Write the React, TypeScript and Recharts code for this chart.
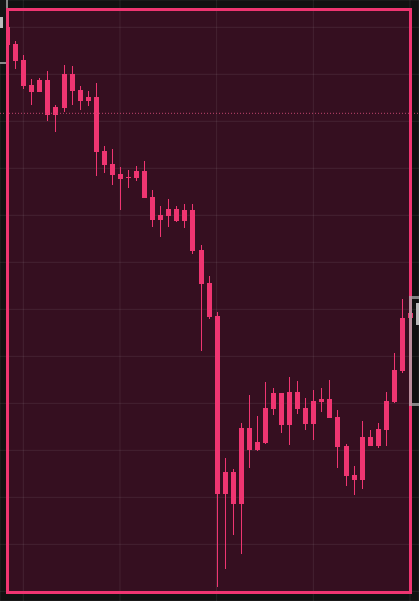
import {
    ComposedChart,
    Bar,
    XAxis,
    YAxis,
    CartesianGrid,
    ReferenceLine,
} from "recharts";

const PINK = "#ef3571";
const FRAME_FILL = "#350f20";
const PAGE_BG = "#111111";

// OHLC, one entry per candle, oldest first
const opens = [
    200.1, 196.4, 193.0, 187.7, 186.2, 188.8, 181.3, 182.8, 190.1, 186.7,
    184.3, 185.2, 173.7, 170.9, 168.8, 167.9, 168.0, 169.4, 163.9, 159.0,
    159.9, 161.3, 158.8, 161.1, 152.6, 145.6, 138.6, 100.7, 105.4, 98.6,
    114.7, 110.1, 111.6, 118.8, 122.2, 115.4, 122.4, 119.0, 115.6, 120.3,
    120.9, 117.1, 110.9, 104.7, 103.7, 112.8, 110.9, 114.3, 120.3, 126.9,
    138.2,
];
const highs = [
    200.3, 197.1, 194.1, 189.0, 189.2, 190.7, 183.5, 192.0, 191.8, 187.5,
    186.4, 188.2, 174.7, 174.1, 170.3, 169.6, 170.5, 171.6, 165.4, 162.0,
    163.5, 162.0, 162.4, 162.4, 153.7, 147.1, 139.4, 108.4, 106.0, 115.8,
    121.8, 117.3, 124.5, 123.3, 122.2, 125.6, 124.7, 121.1, 122.8, 123.3,
    125.0, 118.6, 111.3, 106.7, 116.2, 114.3, 115.8, 122.4, 130.7, 142.2,
    139.5,
];
const lows = [
    195.9, 191.1, 186.9, 183.5, 186.2, 180.1, 177.7, 182.0, 183.5, 182.4,
    183.3, 168.4, 169.0, 166.4, 161.1, 165.8, 167.3, 163.7, 157.5, 155.4,
    157.5, 158.6, 157.3, 151.8, 131.1, 137.9, 80.9, 84.7, 92.0, 87.9,
    106.2, 109.9, 111.3, 117.5, 113.7, 111.1, 117.7, 114.3, 112.2, 118.2,
    116.9, 106.2, 102.4, 100.5, 101.8, 110.9, 110.5, 110.9, 120.1, 126.4,
    138.0,
];
const closes = [
    196.2, 192.9, 187.5, 186.2, 188.8, 181.3, 183.0, 190.1, 186.4, 184.3,
    185.2, 173.5, 170.7, 168.6, 167.7, 168.2, 169.4, 163.7, 159.0, 160.1,
    161.3, 158.8, 161.1, 152.4, 145.4, 138.4, 100.7, 105.4, 98.6, 114.7,
    110.1, 111.8, 119.0, 122.2, 115.4, 122.4, 118.8, 115.6, 120.5, 120.9,
    116.9, 110.7, 104.5, 103.7, 112.8, 110.9, 114.5, 120.5, 127.1, 138.2,
    139.2,
];

const priceGrid = [80, 90, 100, 110, 120, 130, 140, 150, 160, 170, 180, 190, 200];
const timeGrid = [2, 14, 26, 38, 50];
const lastPriceLine = 181.7;

const data = opens.map((open, i) => ({
    i,
    open,
    high: highs[i],
    low: lows[i],
    close: closes[i],
}));

function Candle(props: any) {
    const { x, y, width, height, payload } = props;
    if (!payload) return null;
    const top = Math.min(y, y + height);
    const h = Math.abs(height);
    const range = payload.high - payload.low;
    const ratio = range > 0 ? h / range : 0;
    const bodyTop = top + (payload.high - Math.max(payload.open, payload.close)) * ratio;
    const bodyH = Math.max(1, Math.abs(payload.open - payload.close) * ratio);
    const cx = x + width / 2;
    return (
        <g shapeRendering="crispEdges">
            <rect x={cx - 0.5} y={top} width={1} height={h} fill={PINK} />
            <rect x={x} y={bodyTop} width={width} height={bodyH} fill={PINK} />
        </g>
    );
}

export default function App() {
    return (
        <div
            style={{
                position: "fixed",
                left: 0,
                top: 0,
                width: 419,
                height: 601,
                background: PAGE_BG,
                overflow: "hidden",
            }}
        >
            {/* selection frame fill */}
            <div
                style={{
                    position: "absolute",
                    left: 6,
                    top: 8,
                    width: 406,
                    height: 586,
                    background: FRAME_FILL,
                }}
            />

            <div style={{ position: "absolute", left: 0, top: 0 }}>
                <ComposedChart
                    width={419}
                    height={601}
                    data={data}
                    margin={{ top: 0, right: 0, bottom: 0, left: 0 }}
                >
                    <CartesianGrid stroke="rgba(255,255,255,0.08)" />
                    <XAxis
                        dataKey="i"
                        type="number"
                        domain={[-0.892, 51.119]}
                        ticks={timeGrid}
                        allowDataOverflow
                        hide
                    />
                    <YAxis
                        type="number"
                        domain={[77.94, 205.81]}
                        ticks={priceGrid}
                        allowDataOverflow
                        hide
                    />
                    <ReferenceLine
                        y={lastPriceLine}
                        stroke="#c0446c"
                        strokeDasharray="1 2"
                    />
                    <Bar
                        dataKey={(d: any) => [d.low, d.high]}
                        barSize={5}
                        shape={<Candle />}
                        isAnimationActive={false}
                    />
                </ComposedChart>
            </div>

            {/* neighbouring card, cut off at the top left */}
            <div
                style={{
                    position: "absolute",
                    left: -30,
                    top: -10,
                    width: 38,
                    height: 74,
                    boxSizing: "border-box",
                    border: "2px solid #8a8a8a",
                    background: "#151515",
                }}
            >
                <div
                    style={{
                        position: "absolute",
                        left: 28,
                        top: 25,
                        width: 3,
                        height: 11,
                        background: "#bdbdbd",
                    }}
                />
            </div>

            {/* selection frame border */}
            <div
                style={{
                    position: "absolute",
                    left: 6,
                    top: 8,
                    width: 406,
                    height: 586,
                    boxSizing: "border-box",
                    border: `3px solid ${PINK}`,
                }}
            />

            {/* neighbouring card, cut off at the right */}
            <div
                style={{
                    position: "absolute",
                    left: 409,
                    top: 296,
                    width: 40,
                    height: 110,
                    boxSizing: "border-box",
                    border: "3px solid rgba(170,170,170,0.75)",
                }}
            >
                <div
                    style={{
                        position: "absolute",
                        left: 4,
                        top: 4,
                        width: 5,
                        height: 22,
                        background: "#b8b8b8",
                    }}
                />
            </div>
        </div>
    );
}
